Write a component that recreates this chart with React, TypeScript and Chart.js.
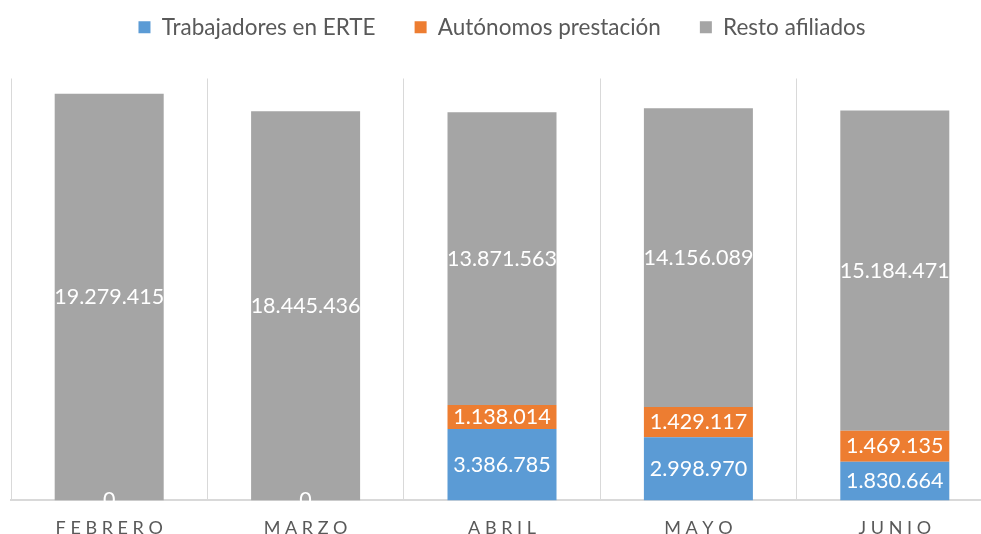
import React, { useEffect, useRef } from 'react';
import { Chart, registerables } from 'chart.js';
Chart.register(...registerables);

const categories = ['FEBRERO', 'MARZO', 'ABRIL', 'MAYO', 'JUNIO'];
const erte = [0, 0, 3386785, 2998970, 1830664];
const autonomos = [null, null, 1138014, 1429117, 1469135];
const resto = [19279415, 18445436, 13871563, 14156089, 15184471];
const seriesNames = ['Trabajadores en ERTE', 'Autónomos prestación', 'Resto afiliados'];
const seriesColors = ['#5B9BD5', '#ED7D31', '#A5A5A5'];
const yMax = 20000000;

const fmt = (n: number) => String(n).replace(/\B(?=(\d{3})+(?!\d))/g, '.');

const labelPlugin = {
  id: 'segLabels',
  afterDatasetsDraw(chart: any) {
    const ctx = chart.ctx;
    ctx.save();
    ctx.font = '21.5px Lato';
    ctx.fillStyle = '#FFFFFF';
    ctx.textAlign = 'center';
    ctx.textBaseline = 'middle';
    chart.data.datasets.forEach((ds: any, di: number) => {
      const meta = chart.getDatasetMeta(di);
      meta.data.forEach((el: any, i: number) => {
        const v = ds.data[i];
        if (v === null || v === undefined) return;
        const y = (el.y + el.base) / 2;
        ctx.fillText(fmt(v), el.x, y);
      });
    });
    ctx.restore();
  },
};

export default function App() {
  const ref = useRef<HTMLCanvasElement>(null);
  useEffect(() => {
    const chart = new Chart(ref.current!, {
      type: 'bar',
      data: {
        labels: categories,
        datasets: [
          { label: seriesNames[0], data: erte, backgroundColor: seriesColors[0] },
          { label: seriesNames[1], data: autonomos, backgroundColor: seriesColors[1] },
          { label: seriesNames[2], data: resto, backgroundColor: seriesColors[2] },
        ],
      },
      options: {
        animation: false,
        responsive: true,
        maintainAspectRatio: false,
        layout: { padding: { left: 11, right: 7, top: 0, bottom: 2 } },
        datasets: { bar: { categoryPercentage: 1, barPercentage: 0.555 } },
        plugins: {
          tooltip: { enabled: false },
          title: {
            display: true,
            text: ' ',
            font: { size: 10 },
            padding: { top: 9, bottom: 9 },
          },
          legend: {
            position: 'top',
            weight: 3000,
            labels: {
              boxWidth: 12,
              boxHeight: 12,
              padding: 39,
              color: '#595959',
              font: { family: 'Lato', size: 22.5 },
            },
          },
        },
        scales: {
          x: {
            stacked: true,
            grid: { display: true, color: '#D9D9D9', lineWidth: 1, drawTicks: false, offset: true },
            border: { display: true, color: '#D9D9D9', width: 2 },
            ticks: {
              color: '#595959',
              font: { family: 'Lato', size: 18 },
              padding: 17,
              callback: (_v: any, i: number) => categories[i].split('').join(' '),
            },
          },
          y: { stacked: true, display: false, min: 0, max: yMax },
        },
      },
      plugins: [labelPlugin],
    });
    return () => chart.destroy();
  }, []);
  return (
    <div style={{ position: 'fixed', left: 0, top: 0, width: 981, height: 534, overflow: 'hidden', background: '#fff' }}>
      <div style={{ position: 'absolute', left: 0, top: -23, width: 1000, height: 581 }}>
        <canvas ref={ref} />
      </div>
    </div>
  );
}
